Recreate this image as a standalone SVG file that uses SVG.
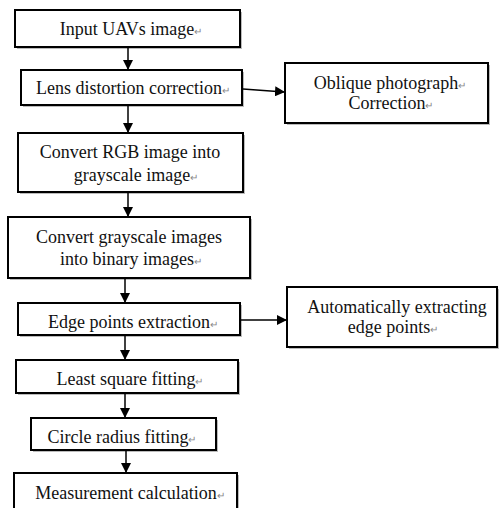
<svg xmlns="http://www.w3.org/2000/svg" width="499" height="508" viewBox="0 0 499 508">
<style>
.box{fill:#fff;stroke:#000;stroke-width:2}
.sh{fill:#bbb}
text{font-family:"Liberation Serif","Times New Roman",serif;font-size:18px;fill:#111;text-anchor:middle}
.pm{font-size:10px;fill:#888}
.c{stroke:#000;stroke-width:1.5;fill:none}
</style>
<defs>
<marker id="ah" markerWidth="10" markerHeight="10" refX="9" refY="5" orient="auto" markerUnits="userSpaceOnUse">
<path d="M0,0 L10,5 L0,10 z" fill="#000"/>
</marker>
</defs>
<rect width="499" height="508" fill="#fff"/>
<g id="n1"><rect class="sh" x="17" y="12" width="225" height="37"/><rect class="box" x="15" y="10" width="225" height="37"/><text x="131" y="35">Input UAVs image<tspan class="pm">↵</tspan></text></g>
<g id="n2"><rect class="sh" x="23" y="72" width="221" height="35"/><rect class="box" x="21" y="70" width="221" height="35"/><text x="133" y="94">Lens distortion correction<tspan class="pm">↵</tspan></text></g>
<g id="n3"><rect class="sh" x="20" y="135" width="225" height="59"/><rect class="box" x="18" y="133" width="225" height="59"/><text x="130" y="158">Convert RGB image into</text><text x="136" y="181">grayscale image<tspan class="pm">↵</tspan></text></g>
<g id="n4"><rect class="sh" x="10" y="219" width="242" height="61"/><rect class="box" x="8" y="217" width="242" height="61"/><text x="129" y="243">Convert grayscale images</text><text x="131" y="265">into binary images<tspan class="pm">↵</tspan></text></g>
<g id="n5"><rect class="sh" x="20" y="305" width="222" height="32"/><rect class="box" x="18" y="303" width="222" height="32"/><text x="133" y="328">Edge points extraction<tspan class="pm">↵</tspan></text></g>
<g id="n6"><rect class="sh" x="18" y="362" width="222" height="33"/><rect class="box" x="16" y="360" width="222" height="33"/><text x="130" y="385">Least square fitting<tspan class="pm">↵</tspan></text></g>
<g id="n7"><rect class="sh" x="33" y="420" width="185" height="32"/><rect class="box" x="31" y="418" width="185" height="32"/><text x="122" y="443">Circle radius fitting<tspan class="pm">↵</tspan></text></g>
<g id="n8"><rect class="sh" x="16" y="475" width="223" height="40"/><rect class="box" x="14" y="473" width="223" height="40"/><text x="130" y="499">Measurement calculation<tspan class="pm">↵</tspan></text></g>
<g id="r1"><rect class="sh" x="287" y="65" width="203" height="60"/><rect class="box" x="285" y="63" width="203" height="60"/><text x="390" y="89">Oblique photograph<tspan class="pm">↵</tspan></text><text x="391" y="109">Correction<tspan class="pm">↵</tspan></text></g>
<g id="r2"><rect class="sh" x="289" y="289" width="212" height="60"/><rect class="box" x="287" y="287" width="210" height="60"/><text x="397" y="313">Automatically extracting</text><text x="393" y="333">edge points<tspan class="pm">↵</tspan></text></g>
<g id="connectors">
<line class="c" x1="128" y1="48" x2="128" y2="69" marker-end="url(#ah)"/>
<line class="c" x1="128" y1="106" x2="128" y2="132" marker-end="url(#ah)"/>
<line class="c" x1="128" y1="193" x2="128" y2="216" marker-end="url(#ah)"/>
<line class="c" x1="125" y1="279" x2="125" y2="302" marker-end="url(#ah)"/>
<line class="c" x1="125" y1="336" x2="125" y2="359" marker-end="url(#ah)"/>
<line class="c" x1="125" y1="394" x2="125" y2="417" marker-end="url(#ah)"/>
<line class="c" x1="126" y1="451" x2="126" y2="472" marker-end="url(#ah)"/>
<line class="c" x1="243" y1="89" x2="284" y2="92" marker-end="url(#ah)"/>
<line class="c" x1="241" y1="320" x2="286" y2="320" marker-end="url(#ah)"/>
</g>
</svg>
